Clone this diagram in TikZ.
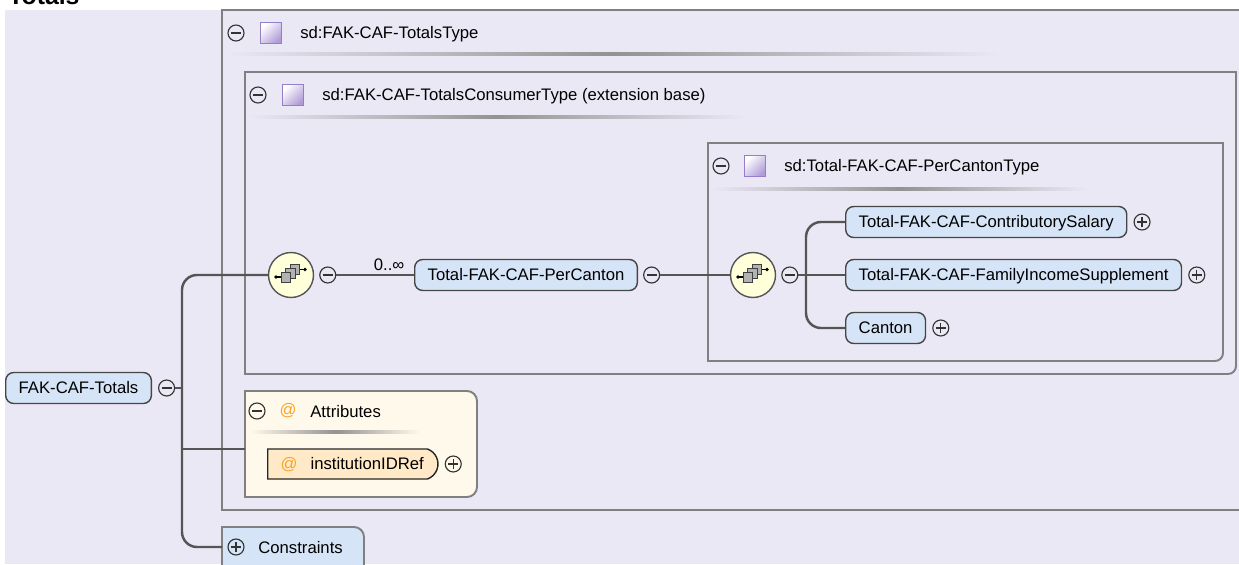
\documentclass[tikz,border=0pt]{standalone}
\usepackage{fontspec}
\setmainfont{Liberation Sans}
\usetikzlibrary{positioning,shapes.misc}

\definecolor{bgLav}{RGB}{235,232,245}
\definecolor{frameGray}{RGB}{128,128,128}
\definecolor{lineGray}{RGB}{85,85,85}
\definecolor{elemBlue}{RGB}{214,228,247}
\definecolor{elemLine}{RGB}{70,70,70}
\definecolor{attrCream}{RGB}{255,249,236}
\definecolor{attrPeach}{RGB}{255,233,198}
\definecolor{atOrange}{RGB}{246,165,40}
\definecolor{seqYellow}{RGB}{255,255,218}
\definecolor{iconPurple}{RGB}{175,155,215}
\definecolor{iconEdge}{RGB}{150,125,200}

\tikzset{
  frame/.style={draw=frameGray, line width=1.1pt, line cap=rect},
  tree/.style={draw=lineGray, line width=1.4pt, rounded corners=0.3cm},
  elem/.style={draw=elemLine, fill=elemBlue, line width=0.8pt, rounded corners=0.16cm,
    minimum height=0.62cm, inner xsep=0.26cm, text height=6.8pt, text depth=0pt, anchor=west},
  attrel/.style={rounded rectangle, rounded rectangle west arc=none, rounded rectangle arc length=140,
    draw=black!85, fill=attrPeach, line width=0.8pt, minimum height=0.6cm, inner xsep=0.26cm,
    text height=6.8pt, text depth=0pt, anchor=west},
  seqnode/.style={circle, draw=lineGray, fill=seqYellow, line width=0.8pt, minimum size=0.9cm, inner sep=0},
  minusbtn/.style={circle, draw=black!80, line width=0.65pt, minimum size=0.32cm, inner sep=0,
    path picture={\draw[line width=0.65pt] ([xshift=-0.1cm]path picture bounding box.center) -- ([xshift=0.1cm]path picture bounding box.center);}},
  plusbtn/.style={circle, draw=black!80, line width=0.65pt, minimum size=0.32cm, inner sep=0,
    path picture={\draw[line width=0.65pt] ([xshift=-0.1cm]path picture bounding box.center) -- ([xshift=0.1cm]path picture bounding box.center)
      ([yshift=-0.1cm]path picture bounding box.center) -- ([yshift=0.1cm]path picture bounding box.center);}},
  typeicon/.style={draw=iconEdge, line width=0.6pt, minimum size=0.42cm, inner sep=0,
    left color=white, right color=iconPurple, shading angle=45},
  headtext/.style={anchor=base west, inner sep=0},
}

\begin{document}
\begin{tikzpicture}[x=0.02cm, y=-0.02cm, font=\fontsize{9.5}{11}\selectfont]
  \useasboundingbox (0,0) rectangle (1239,564);
  \fill[white] (0,0) rectangle (1239,564);
  \fill[bgLav] (5,10) rectangle (1239,564);
  \node[headtext, font=\bfseries\fontsize{14.1}{16}\selectfont] (title) at (8,5) {Totals};

  \draw[frame, fill=bgLav] (222,10) rectangle (1250,510);
  \shade[left color=bgLav, right color=bgLav, middle color=gray!85] (225,53) rectangle (1000,56);
  \node[minusbtn] (typeMinus) at (236,33) {};
  \node[typeicon] (typeIcon) at (271,33) {};
  \node[headtext] (typeText) at (300,39) {sd:FAK-CAF-TotalsType};

  \draw[frame] (245,374) -- (245,72) -- (1236,72);
  \draw[frame, rounded corners=0.16cm] (1236,72) -- (1236,374) -- (245,374);
  \shade[left color=bgLav, right color=bgLav, middle color=gray!85] (248,116) rectangle (745,119);
  \node[minusbtn] (baseMinus) at (258,95) {};
  \node[typeicon] (baseIcon) at (293,95) {};
  \node[headtext] (baseText) at (322,101) {sd:FAK-CAF-TotalsConsumerType (extension base)};

  \draw[frame] (708,361) -- (708,143) -- (1223,143);
  \draw[frame, rounded corners=0.16cm] (1223,143) -- (1223,361) -- (708,361);
  \shade[left color=bgLav, right color=bgLav, middle color=gray!85] (711,187) rectangle (1088,190);
  \node[minusbtn] (cantonTypeMinus) at (721,166) {};
  \node[typeicon] (cantonTypeIcon) at (755,166) {};
  \node[headtext] (cantonTypeText) at (784,172) {sd:Total-FAK-CAF-PerCantonType};

  \fill[attrCream, rounded corners=0.2cm] (245,391) rectangle (477,497);
  \fill[attrCream] (245,391) rectangle (300,497);
  \draw[frame] (245,497) -- (245,391) -- (300,391);
  \draw[frame, rounded corners=0.2cm] (300,391) -- (477,391) -- (477,497) -- (245,497);
  \shade[left color=attrCream, right color=attrCream, middle color=gray!85] (250,430) rectangle (420,433);
  \node[minusbtn] (attrMinus) at (257,411) {};
  \node[text=atOrange] (attrAt) at (288,411) {@};
  \node[headtext] (attrText) at (310,417) {Attributes};
  \node[attrel] (instRef) at (267,464) {\textcolor{atOrange}{@}\hspace{0.26cm}institutionIDRef};
  \node[plusbtn, right=0.12cm of instRef] (instPlus) {};

  \fill[elemBlue, rounded corners=0.2cm] (222,527) rectangle (364,580);
  \fill[elemBlue] (222,527) rectangle (260,580);
  \draw[frame] (222,580) -- (222,527) -- (260,527);
  \draw[frame, rounded corners=0.2cm] (260,527) -- (364,527) -- (364,580);
  \node[plusbtn] (consPlus) at (236,547) {};
  \node[headtext] (consText) at (258,553) {Constraints};

  \node[elem] (totals) at (5,388) {FAK-CAF-Totals};
  \node[minusbtn, right=0.12cm of totals] (totalsMinus) {};
  \coordinate (jA) at (182,388);
  \coordinate (attrIn) at (245,449);
  \coordinate (consIn) at (222,547);
  \node[seqnode] (seqA) at (291,275) {};
  \node[minusbtn, right=0.1cm of seqA] (seqAMinus) {};
  \node[elem] (perCanton) at (414,275) {Total-FAK-CAF-PerCanton};
  \node[minusbtn, right=0.1cm of perCanton] (perCantonMinus) {};
  \node[seqnode] (seqB) at (753,275) {};
  \node[minusbtn, right=0.1cm of seqB] (seqBMinus) {};
  \coordinate (jB) at (806,275);
  \node[elem] (salary) at (845,222) {Total-FAK-CAF-ContributorySalary};
  \node[plusbtn, right=0.12cm of salary] (salaryPlus) {};
  \node[elem] (family) at (845,275) {Total-FAK-CAF-FamilyIncomeSupplement};
  \node[plusbtn, right=0.12cm of family] (familyPlus) {};
  \node[elem] (canton) at (845,328) {Canton};
  \node[plusbtn, right=0.12cm of canton] (cantonPlus) {};

  \draw[tree] (totalsMinus.east) -- (jA);
  \draw[tree] (seqA.west) -| (jA) |- (consIn);
  \draw[tree] (attrIn) -- (attrIn -| jA);
  \draw[draw=lineGray, line width=0.6pt] (seqAMinus.east) -- node[pos=0.68, above, inner sep=2pt] (occurs) {0..∞} (perCanton.west);
  \draw[tree] (perCantonMinus.east) -- (seqB.west);
  \draw[tree] (seqBMinus.east) -- (family.west);
  \draw[tree] (salary.west) -| (jB) |- (canton.west);

  \foreach \s in {seqA,seqB} {
    \begin{scope}[shift={(\s.center)}]
      \draw[line width=0.8pt] (-15,2) -- (-8,2) (7,-5.5) -- (14,-5.5);
      \fill (-15,2) circle (1.8) (14,-5.5) circle (1.8);
      \foreach \dx/\dy in {3.9/-5.5, -0.6/-1.6, -5.1/2.4}
        \filldraw[fill=gray!60, draw=black!75, line width=0.55pt] (\dx-4.8,\dy-4.8) rectangle (\dx+4.8,\dy+4.8);
    \end{scope}
  }
\end{tikzpicture}
\end{document}
